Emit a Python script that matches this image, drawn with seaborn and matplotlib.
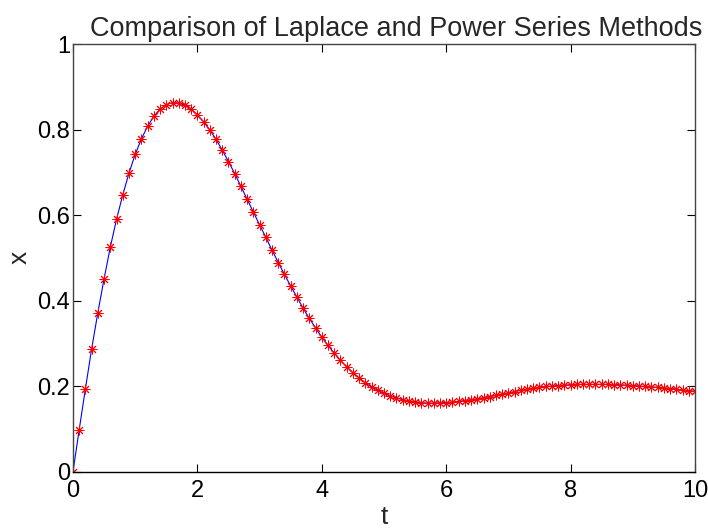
import numpy as np
import pandas as pd
import matplotlib
matplotlib.use("Agg")
import matplotlib.pyplot as plt
import seaborn as sns

sns.set_style("white")
plt.rcParams['font.family'] = ['Liberation Sans', 'DejaVu Sans']

t = np.linspace(0, 10, 101)
x_values = [
    0.000, 0.098, 0.194, 0.287, 0.372, 0.451, 0.525, 0.590, 0.647, 0.698,
    0.742, 0.778, 0.808, 0.831, 0.848, 0.858, 0.863, 0.862, 0.857, 0.848,
    0.834, 0.818, 0.799, 0.777, 0.752, 0.725, 0.697, 0.667, 0.637, 0.607,
    0.577, 0.548, 0.518, 0.489, 0.461, 0.434, 0.408, 0.382, 0.358, 0.336,
    0.314, 0.295, 0.277, 0.260, 0.245, 0.231, 0.219, 0.207, 0.198, 0.190,
    0.183, 0.177, 0.172, 0.168, 0.165, 0.163, 0.161, 0.160, 0.160, 0.161,
    0.161, 0.162, 0.164, 0.166, 0.168, 0.170, 0.173, 0.175, 0.178, 0.181,
    0.184, 0.187, 0.190, 0.192, 0.195, 0.197, 0.199, 0.200, 0.201, 0.202,
    0.203, 0.204, 0.204, 0.204, 0.204, 0.204, 0.204, 0.203, 0.203, 0.202,
    0.201, 0.200, 0.199, 0.198, 0.197, 0.196, 0.194, 0.193, 0.191, 0.189,
    0.188,
]
x_ticks = [0, 2, 4, 6, 8, 10]
y_ticks = [0, 0.2, 0.4, 0.6, 0.8, 1]
y_tick_labels = ["0", "0.2", "0.4", "0.6", "0.8", "1"]

df = pd.DataFrame({"t": t, "x": x_values})

fig = plt.figure(figsize=(7.08, 5.31), dpi=100)
ax = fig.add_axes([0.1031, 0.112, 0.8785, 0.805])

sns.lineplot(data=df, x="t", y="x", ax=ax, color="blue", linewidth=0.8,
             estimator=None, sort=False)
sns.lineplot(data=df, x="t", y="x", ax=ax, color="red", linestyle="",
             marker=(8, 2, 0), markersize=7, markeredgewidth=0.7,
             markeredgecolor="red", estimator=None, sort=False)

ax.set_xlim(0, 10)
ax.set_ylim(0, 1)
ax.set_xticks(x_ticks)
ax.set_xticklabels([str(v) for v in x_ticks])
ax.set_yticks(y_ticks)
ax.set_yticklabels(y_tick_labels)
ax.tick_params(direction="in", length=6, width=0.8, labelsize=17,
               top=True, right=True, bottom=True, left=True, colors="black")
ax.tick_params(axis="x", pad=6)
ax.tick_params(axis="y", pad=2)
for s in ax.spines.values():
    s.set_visible(True)
    s.set_color("#444444")
    s.set_linewidth(1.0)
ax.spines["bottom"].set_color("black")

ax.set_title("Comparison of Laplace and Power Series Methods", fontsize=19.5,
             pad=6, x=0.519)
ax.set_xlabel("t", fontsize=19, labelpad=2)
ax.set_ylabel("x", fontsize=19, labelpad=4)

fig.savefig("out.png", dpi=100)
